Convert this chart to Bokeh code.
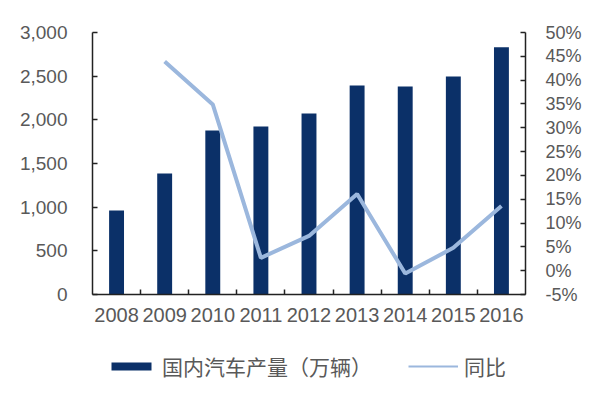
from bokeh.plotting import figure
from bokeh.layouts import column
from bokeh.models import Range1d, LinearAxis, FixedTicker, Legend, LegendItem, NumeralTickFormatter, CustomJSTickFormatter
from bokeh.embed import file_html
from bokeh.resources import INLINE

years = ["2008", "2009", "2010", "2011", "2012", "2013", "2014", "2015", "2016"]
production = [962, 1385, 1878, 1924, 2072, 2393, 2382, 2496, 2832]
growth_years = ["2009", "2010", "2011", "2012", "2013", "2014", "2015", "2016"]
growth = [43.9, 34.9, 2.7, 7.3, 16.1, -0.6, 4.8, 13.6]
left_ticks = [0, 500, 1000, 1500, 2000, 2500, 3000]
right_ticks = [-5, 0, 5, 10, 15, 20, 25, 30, 35, 40, 45, 50]
bar_name = "国内汽车产量（万辆）"
line_name = "同比"

bar_color = "#0B3068"
line_color = "#9BB7DD"
label_color = "#595959"
axis_color = "#222222"
font = "Liberation Sans"

xpos = {y: i + 0.5 for i, y in enumerate(years)}
bar_x = [xpos[y] for y in years]
line_x = [xpos[y] for y in growth_years]

p = figure(width=584, height=340, output_backend="svg", toolbar_location=None,
           x_range=Range1d(0, len(years)), y_range=Range1d(0, 3000),
           min_border_left=92, min_border_right=54, min_border_top=32, min_border_bottom=46)
p.extra_y_ranges = {"pct": Range1d(-5, 50)}
p.outline_line_color = None
p.xgrid.visible = False
p.ygrid.visible = False
p.xaxis.visible = False
p.yaxis.visible = False

p.vbar(x=bar_x, top=production, width=0.31, bottom=0, fill_color=bar_color, line_color=None)
p.line(x=line_x, y=growth, y_range_name="pct", line_color=line_color, line_width=4)

xaxis = LinearAxis(ticker=FixedTicker(ticks=bar_x, minor_ticks=list(range(1, len(years)))),
                   major_label_overrides={xpos[y]: y for y in years})
xaxis.major_tick_in = 0
xaxis.major_tick_out = 0
xaxis.minor_tick_in = 5
xaxis.minor_tick_out = 0
xaxis.minor_tick_line_color = axis_color
xaxis.minor_tick_line_width = 1.5
xaxis.axis_line_color = axis_color
xaxis.axis_line_width = 1.5
xaxis.major_label_text_font = font
xaxis.major_label_text_font_size = "20px"
xaxis.major_label_text_color = label_color
xaxis.major_label_standoff = 13
p.add_layout(xaxis, "below")

laxis = LinearAxis(ticker=FixedTicker(ticks=left_ticks, minor_ticks=[]),
                   formatter=NumeralTickFormatter(format="0,0"))
laxis.major_tick_in = 5
laxis.major_tick_out = 0
laxis.major_tick_line_color = axis_color
laxis.major_tick_line_width = 1.5
laxis.axis_line_color = axis_color
laxis.axis_line_width = 1.5
laxis.major_label_text_font = font
laxis.major_label_text_font_size = "19px"
laxis.major_label_text_color = label_color
laxis.major_label_standoff = 25
p.add_layout(laxis, "left")

raxis = LinearAxis(y_range_name="pct", ticker=FixedTicker(ticks=right_ticks, minor_ticks=[]),
                   formatter=CustomJSTickFormatter(code="return tick + '%';"))
raxis.major_tick_in = 5
raxis.major_tick_out = 0
raxis.major_tick_line_color = axis_color
raxis.major_tick_line_width = 1.5
raxis.axis_line_color = axis_color
raxis.axis_line_width = 1.5
raxis.major_label_text_font = font
raxis.major_label_text_font_size = "18px"
raxis.major_label_text_color = label_color
raxis.major_label_standoff = 20
p.add_layout(raxis, "right")

# legend strip: key renderers hold a single NaN point, so only their legend swatches show
nan = float("nan")
q = figure(width=584, height=44, output_backend="svg", toolbar_location=None,
           x_range=Range1d(0, 1), y_range=Range1d(0, 1),
           min_border_left=92, min_border_right=54, min_border_top=0, min_border_bottom=0)
q.outline_line_color = None
q.xaxis.visible = False
q.yaxis.visible = False
q.xgrid.visible = False
q.ygrid.visible = False
kb = q.vbar(x=[nan], top=[nan], width=0.31, fill_color=bar_color, line_color=None)
kl = q.line(x=[nan], y=[nan], line_color=line_color, line_width=2)

legend = Legend(items=[LegendItem(label=bar_name, renderers=[kb]),
                       LegendItem(label=line_name, renderers=[kl])],
                orientation="horizontal", location=(14, 3))
legend.border_line_color = None
legend.background_fill_alpha = 0
legend.padding = 0
legend.margin = 0
legend.spacing = 36
legend.glyph_width = 50
legend.glyph_height = 10
legend.label_standoff = 6
legend.label_text_font = "Noto Sans CJK SC"
legend.label_text_font_size = "21px"
legend.label_text_color = label_color
legend.label_height = 24
q.add_layout(legend, "center")

layout = column(p, q, spacing=0)
open("out.html", "w").write(file_html(layout, INLINE))
